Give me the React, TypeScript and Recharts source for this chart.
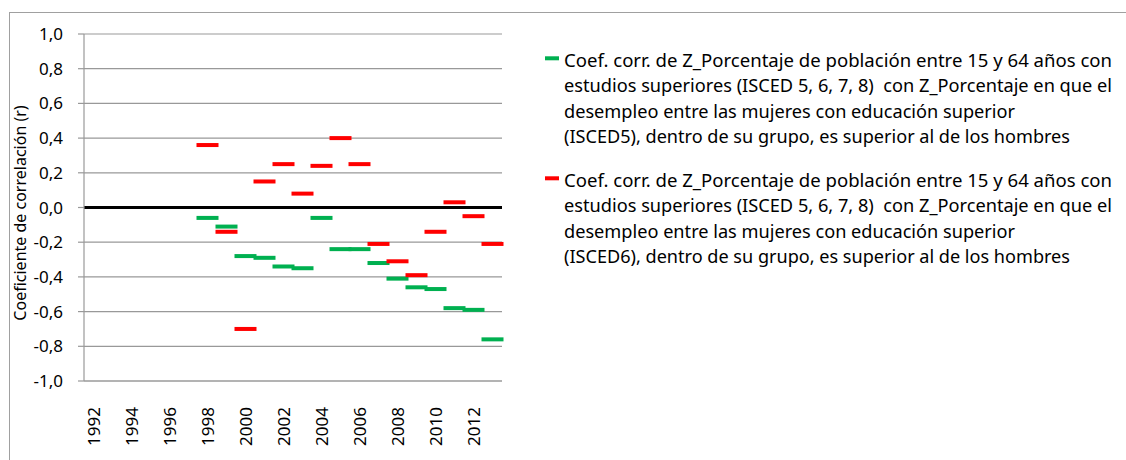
import React from "react";
import { CartesianGrid, ComposedChart, Line, ReferenceLine, XAxis, YAxis } from "recharts";

const years = [
  1992, 1993, 1994, 1995, 1996, 1997, 1998, 1999, 2000, 2001, 2002,
  2003, 2004, 2005, 2006, 2007, 2008, 2009, 2010, 2011, 2012, 2013,
];

// ISCED5 (green)
const isced5 = [
  null, null, null, null, null, null, -0.06, -0.11, -0.28, -0.29, -0.34,
  -0.35, -0.06, -0.24, -0.24, -0.32, -0.41, -0.46, -0.47, -0.58, -0.59, -0.76,
];

// ISCED6 (red)
const isced6 = [
  null, null, null, null, null, null, 0.36, -0.14, -0.7, 0.15, 0.25,
  0.08, 0.24, 0.4, 0.25, -0.21, -0.31, -0.39, -0.14, 0.03, -0.05, -0.21,
];

const yTicks = [-1, -0.8, -0.6, -0.4, -0.2, 0, 0.2, 0.4, 0.6, 0.8, 1];

// legend text, split the way the reference wraps it
const legendItems = [
  {
    color: "#00B050",
    lines: [
      "Coef. corr. de Z_Porcentaje de población entre 15 y 64 años con",
      "estudios superiores (ISCED 5, 6, 7, 8)  con Z_Porcentaje en que el",
      "desempleo entre las mujeres con educación superior",
      "(ISCED5), dentro de su grupo, es superior al de los hombres",
    ],
  },
  {
    color: "#FF0000",
    lines: [
      "Coef. corr. de Z_Porcentaje de población entre 15 y 64 años con",
      "estudios superiores (ISCED 5, 6, 7, 8)  con Z_Porcentaje en que el",
      "desempleo entre las mujeres con educación superior",
      "(ISCED6), dentro de su grupo, es superior al de los hombres",
    ],
  },
];

// widths the wrapped legend lines take in the reference (Calibri is narrower than what we have)
const LINE_WIDTHS = [548, 548, 451, 506];

const data = years.map((year, i) => ({ year, isced5: isced5[i], isced6: isced6[i] }));

const FONT = "'Noto Sans', sans-serif";

const fmt = (v: number) => (Math.abs(v) < 1e-9 ? "0,0" : v.toFixed(1).replace(".", ","));

function dash(color: string) {
  return (props: any) => {
    const { cx, cy, index } = props;
    if (cx == null || cy == null || Number.isNaN(cy)) return <g key={index} />;
    return <rect key={index} x={cx - 11} y={cy - 2} width={22} height={4} fill={color} />;
  };
}

function YearTick(props: any) {
  const { x, y, payload } = props;
  return (
    <g transform={`translate(${x},${y + 18})`}>
      <text
        transform="rotate(-90)"
        textAnchor="end"
        dy="0.36em"
        fontSize={17}
        fontFamily={FONT}
        fill="#000"
      >
        {payload.value}
      </text>
    </g>
  );
}

function LegendBlock() {
  const x0 = 15;
  const lineH = 25.5;
  const entryH = 120;
  return (
    <svg width={596} height={240} style={{ position: "absolute", left: 530, top: 40 }}>
      {legendItems.map((item, i) => {
        const base = 26.7 + i * entryH;
        return (
          <g key={i}>
            <rect x={x0} y={base - 10.4} width={14} height={4} fill={item.color} />
            {item.lines.map((line, j) => (
              <text
                key={j}
                x={x0 + 19}
                y={base + j * lineH}
                fontSize={17.5}
                fontFamily={FONT}
                fill="#000"
                textLength={LINE_WIDTHS[j]}
                lengthAdjust="spacingAndGlyphs"
                style={{ whiteSpace: "pre" }}
              >
                {line}
              </text>
            ))}
          </g>
        );
      })}
    </svg>
  );
}

export default function App() {
  return (
    <div
      style={{
        position: "absolute",
        left: 0,
        top: 0,
        width: 1126,
        height: 460,
        overflow: "hidden",
        background: "#fff",
        fontFamily: FONT,
      }}
    >
      <div
        style={{
          position: "absolute",
          left: 9,
          top: 12,
          width: 1300,
          height: 700,
          borderLeft: "1px solid #a0a0a0",
          borderTop: "1px solid #a0a0a0",
        }}
      />
      <div style={{ position: "absolute", left: 0, top: 0 }}>
        <ComposedChart
          width={1126}
          height={460}
          data={data}
          margin={{ top: 34, right: 624, bottom: 0, left: 0 }}
        >
          <CartesianGrid vertical={false} stroke="#999" strokeWidth={1.2} />
          <XAxis
            dataKey="year"
            type="category"
            scale="band"
            interval={1}
            tickLine={false}
            axisLine={{ stroke: "#999", strokeWidth: 1.2 }}
            height={79}
            tick={<YearTick />}
          />
          <YAxis
            domain={[-1, 1]}
            ticks={yTicks}
            interval={0}
            width={84}
            tickSize={6}
            tickMargin={15}
            tickFormatter={fmt}
            tickLine={{ stroke: "#999", strokeWidth: 1.2 }}
            axisLine={{ stroke: "#999", strokeWidth: 1.2 }}
            tick={{ fontSize: 17, fontFamily: FONT, fill: "#000" }}
            label={{
              content: () => (
                <text
                  x={20}
                  y={213}
                  transform="rotate(-90 20 213)"
                  textAnchor="middle"
                  dominantBaseline="central"
                  fontSize={16}
                  fontFamily={FONT}
                  fill="#000"
                >
                  Coeficiente de correlación (r)
                </text>
              ),
            }}
          />
          <ReferenceLine y={0} stroke="#000" strokeWidth={3} />
          <Line
            dataKey="isced5"
            stroke="none"
            strokeWidth={0}
            dot={dash("#00B050")}
            activeDot={false}
            isAnimationActive={false}
            connectNulls={false}
          />
          <Line
            dataKey="isced6"
            stroke="none"
            strokeWidth={0}
            dot={dash("#FF0000")}
            activeDot={false}
            isAnimationActive={false}
            connectNulls={false}
          />
        </ComposedChart>
      </div>
      <LegendBlock />
    </div>
  );
}
